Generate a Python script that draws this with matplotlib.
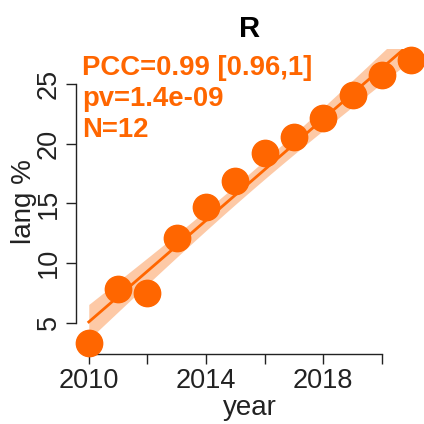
import matplotlib.pyplot as plt
import matplotlib as mpl
import numpy as np

mpl.rcParams['font.family'] = ['Liberation Sans', 'DejaVu Sans']

# data
years = [2010, 2011, 2012, 2013, 2014, 2015, 2016, 2017, 2018, 2019, 2020, 2021]
lang_pct = [3.3, 7.8, 7.5, 12.1, 14.7, 16.9, 19.2, 20.6, 22.2, 24.1, 25.8, 27.0]
x_ticks = [2010, 2012, 2014, 2016, 2018, 2020]
x_tick_labels = ['2010', '', '2014', '', '2018', '']
y_ticks = [5, 10, 15, 20, 25]
stats_lines = ['PCC=0.99 [0.96,1]', 'pv=1.4e-09', 'N=12']
title = 'R'

col = '#FF6600'
band_col = '#FDC9A6'

dpi = 100
fig = plt.figure(dpi=dpi, figsize=(424 / dpi, 424 / dpi))
ax = fig.add_axes([0.179, 0.165, 0.821, 0.719])

x = np.array(years, dtype=float)
y = np.array(lang_pct)
n = len(x)

# linear fit with 95% confidence band
slope, intercept = np.polyfit(x, y, 1)
xs = np.linspace(x.min(), x.max(), 100)
ys = slope * xs + intercept
resid = y - (slope * x + intercept)
s = np.sqrt(np.sum(resid ** 2) / (n - 2))
se = s * np.sqrt(1 / n + (xs - x.mean()) ** 2 / np.sum((x - x.mean()) ** 2))
t = 2.228
ax.fill_between(xs, ys - t * se, ys + t * se, color=band_col, lw=0, zorder=1)
ax.plot(xs, ys, color=col, lw=2, zorder=2)
ax.scatter(x, y, s=360, color=col, zorder=3, clip_on=False)

# R-like limits (4% padding)
xr = x.max() - x.min()
yr = y.max() - y.min()
ax.set_xlim(x.min() - 0.04 * xr, x.max() + 0.04 * xr)
ax.set_ylim(y.min() - 0.04 * yr, y.max() + 0.04 * yr)

ax.spines['top'].set_visible(False)
ax.spines['right'].set_visible(False)
ax.spines['left'].set_bounds(y_ticks[0], y_ticks[-1])
ax.spines['bottom'].set_bounds(x_ticks[0], x_ticks[-1])
for sp in ['left', 'bottom']:
    ax.spines[sp].set_linewidth(1)
    ax.spines[sp].set_color('#222222')

ax.set_xticks(x_ticks)
ax.set_xticklabels(x_tick_labels)
ax.set_yticks(y_ticks)
ax.set_yticklabels([str(v) for v in y_ticks], rotation=90, va='center')
ax.tick_params(axis='both', length=7, width=1, labelsize=19.5, color='#222222',
               labelcolor='#222222', pad=3)

ax.set_xlabel('year', fontsize=20, color='#222222', labelpad=1)
ax.set_ylabel('lang %', fontsize=20, color='#222222', labelpad=-1)
ax.set_title(title, fontsize=21, fontweight='bold', pad=9)

for i, line in enumerate(stats_lines):
    ax.text(0.017, 0.915 - i * 0.102, line, transform=ax.transAxes, color=col,
            fontsize=19.8, fontweight='bold', va='baseline', ha='left', zorder=5)

fig.savefig('out.png', dpi=dpi)
